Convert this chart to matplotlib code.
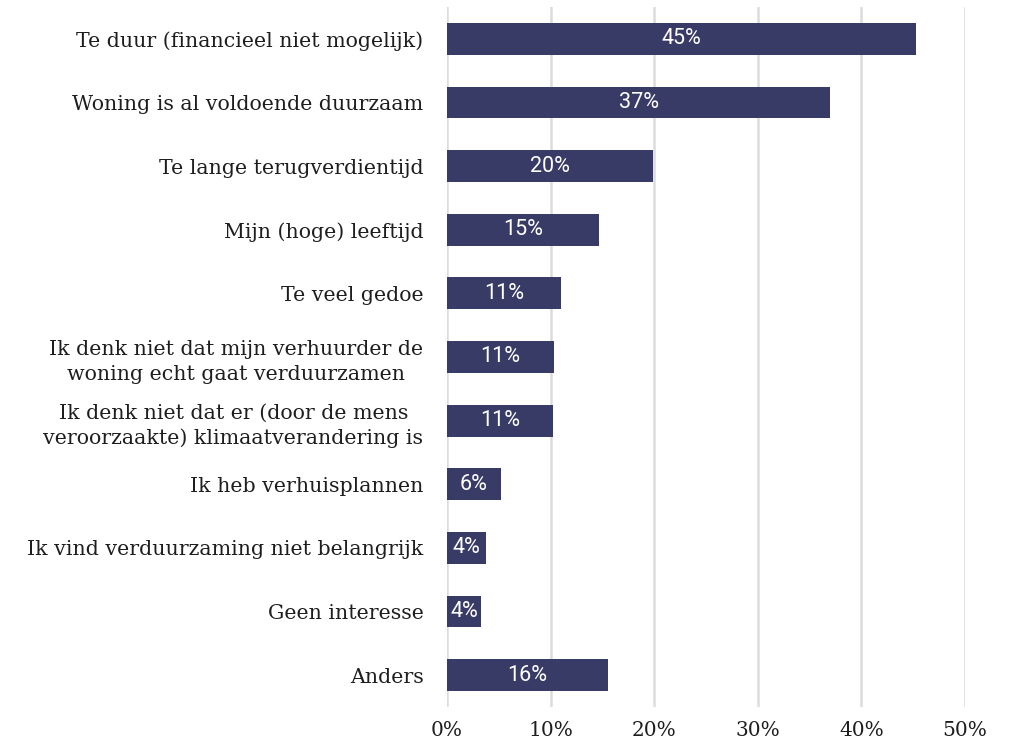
import matplotlib.pyplot as plt

categories = [
    "Te duur (financieel niet mogelijk)",
    "Woning is al voldoende duurzaam",
    "Te lange terugverdientijd",
    "Mijn (hoge) leeftijd",
    "Te veel gedoe",
    "Ik denk niet dat mijn verhuurder de\nwoning echt gaat verduurzamen",
    "Ik denk niet dat er (door de mens\nveroorzaakte) klimaatverandering is",
    "Ik heb verhuisplannen",
    "Ik vind verduurzaming niet belangrijk",
    "Geen interesse",
    "Anders",
]
values = [45.3, 37.0, 19.9, 14.7, 11.0, 10.3, 10.2, 5.2, 3.8, 3.3, 15.5]
labels = ["45%", "37%", "20%", "15%", "11%", "11%", "11%", "6%", "4%", "4%", "16%"]
ticks = [0, 10, 20, 30, 40, 50]

bar_color = "#383b66"
grid_color = "#dcdcdc"
text_color = "#1e1e1e"

fig = plt.figure(figsize=(10.12, 7.47), dpi=100)
ax = fig.add_axes([447 / 1012, 1 - 707 / 747, (965 - 447) / 1012, 700 / 747])

y = list(range(len(categories)))
ax.barh(y, values, height=0.5, color=bar_color, zorder=3)

for yi, v, lab in zip(y, values, labels):
    ax.text(v / 2, yi, lab, ha="center", va="center", color="white",
            fontsize=15.5, family="Roboto", zorder=4)

ax.set_xlim(0, 50)
ax.set_ylim(len(categories) - 0.5, -0.5)
ax.set_xticks(ticks)
ax.set_xticklabels([f"{t}%" for t in ticks], family="DejaVu Serif", fontsize=14.5, color=text_color)
ax.set_yticks(y)
ax.set_yticklabels(categories, family="DejaVu Serif", fontsize=14.8, color=text_color,
                   linespacing=1.4)
for lab in ax.get_yticklabels():
    lab.set_multialignment("center")
ax.tick_params(axis="y", length=0, pad=17)
ax.tick_params(axis="x", length=0, pad=10)

ax.grid(axis="x", color=grid_color, linewidth=1.8, zorder=0)
for s in ax.spines.values():
    s.set_visible(False)

fig.savefig("out.png", dpi=100)
